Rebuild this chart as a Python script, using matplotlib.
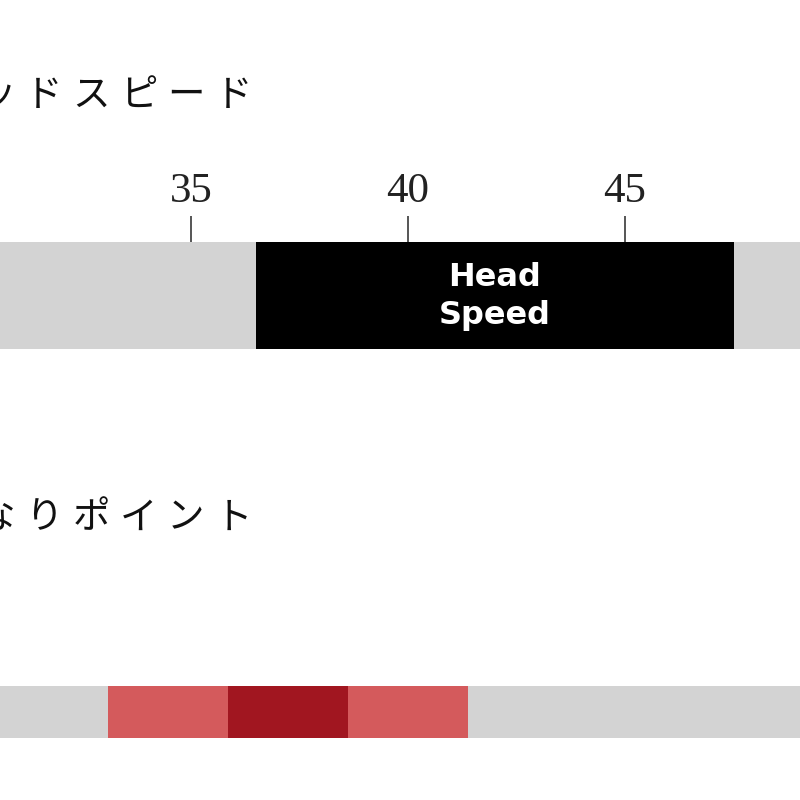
import matplotlib
matplotlib.use("Agg")
import matplotlib.pyplot as plt

# ---- data ----
speed_title = "ヘッドスピード"
flex_title = "しなりポイント"
speed_ticks = [35, 40, 45]
speed_scale = [30, 50]          # full range of gray scale bar
speed_range = [36.5, 47.5]      # recommended head speed
speed_label = "Head\nSpeed"

flex_positions = [0, 1, 2, 3, 4, 5, 6]   # flex-point segments
flex_levels = [0, 1, 2, 1, 0, 0, 0]      # 0 = none, 1 = partial, 2 = main
level_colors = {0: "#d3d3d3", 1: "#d45a5c", 2: "#a11620"}

W = H = 800
fig = plt.figure(figsize=(8, 8), dpi=100)
fig.patch.set_facecolor("white")

def fy(px):  # pixel from top -> fig fraction
    return 1 - px / H

# ---- top axis: head speed ----
ax = fig.add_axes([0, fy(349), 1, (349 - 242) / H])
ax.barh(0.5, speed_scale[1] - speed_scale[0], left=speed_scale[0], height=1,
        color="#d3d3d3", linewidth=0)
ax.barh(0.5, speed_range[1] - speed_range[0], left=speed_range[0], height=1,
        color="black", linewidth=0)
px_per_unit = 217 / 5.0
left = 35 - 191 / px_per_unit
ax.set_xlim(left, left + W / px_per_unit)
ax.set_ylim(0, 1)
ax.text((speed_range[0] + speed_range[1]) / 2, 0.49, speed_label, color="white",
        ha="center", va="center", fontsize=23, fontweight="bold",
        family="DejaVu Sans", linespacing=1.3)
ax.xaxis.tick_top()
ax.set_xticks(speed_ticks)
ax.set_xticklabels([str(t) for t in speed_ticks], family="Liberation Serif",
                   fontsize=31, color="#222222")
ax.tick_params(axis="x", direction="out", length=19, width=1.4, color="#555555",
               pad=3.5)
ax.set_yticks([])
for s in ax.spines.values():
    s.set_visible(False)

# ---- bottom axis: flex point ----
ax2 = fig.add_axes([0, fy(738), 1, (738 - 686) / H])
ax2.barh(0.5, len(flex_positions) + 1, left=flex_positions[0] - 0.5, height=1,
         color=level_colors[0], linewidth=0)
for p, lv in zip(flex_positions, flex_levels):
    if lv > 0:
        ax2.barh(0.5, 1, left=p, height=1, color=level_colors[lv], linewidth=0)
seg_px = 120.0
l2 = 1 - 108 / seg_px
ax2.set_xlim(l2, l2 + W / seg_px)
ax2.set_ylim(0, 1)
ax2.set_xticks([])
ax2.set_yticks([])
for s in ax2.spines.values():
    s.set_visible(False)

# ---- section titles (spaced characters) ----
pitch = 47.3
x0 = -50.6
for title, yc in [(speed_title, 95), (flex_title, 518)]:
    for i, ch in enumerate(title):
        fig.text((x0 + i * pitch) / W, fy(yc), ch, ha="center", va="center",
                 fontsize=27, family=["Noto Sans CJK JP", "DejaVu Sans"],
                 color="#111111")

fig.savefig("out.png", dpi=100, facecolor="white")
